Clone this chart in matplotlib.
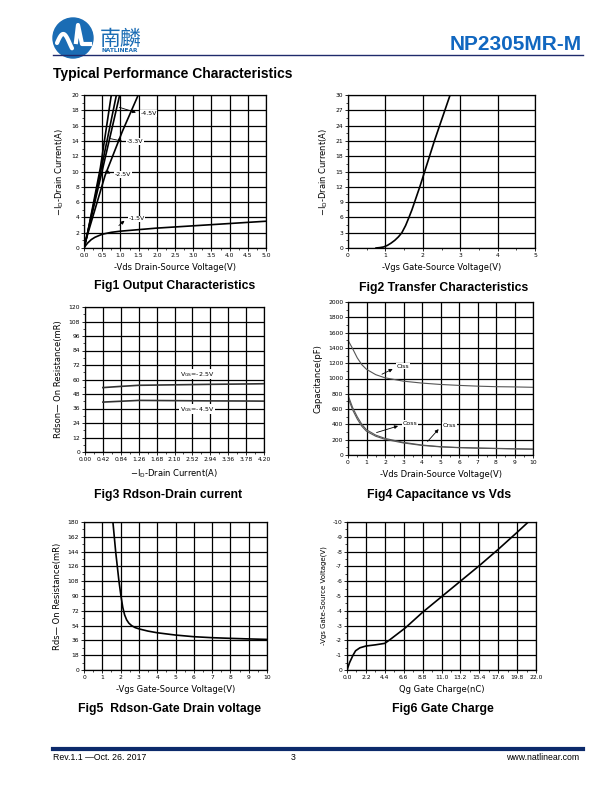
import numpy as np
import matplotlib
matplotlib.use('Agg')
import matplotlib.pyplot as plt
from matplotlib.ticker import MultipleLocator, FixedLocator
from matplotlib.patches import Circle

plt.rcParams['font.family'] = ['DejaVu Sans', 'Noto Sans CJK SC']
plt.rcParams['axes.unicode_minus'] = False

# ---- data ----
# Fig1 output characteristics (-Vds, -Id)
vds_45 = [0.0, 0.1, 0.45, 0.75]
id_45 = [0.0, 2.0, 10.5, 20.0]
vds_33 = [0.0, 0.1, 0.48, 0.89]
id_33 = [0.0, 2.0, 10.5, 20.0]
vds_30 = [0.0, 0.1, 0.52, 0.98]
id_30 = [0.0, 2.0, 10.5, 20.0]
vds_25 = [0.0, 0.1, 0.58, 1.05, 1.49]
id_25 = [0.0, 1.8, 9.5, 15.2, 20.0]
vds_15 = [0.0, 0.05, 0.1, 0.2, 0.3, 0.5, 0.75, 1.0, 1.5, 2.0, 3.0, 4.0, 5.0]
id_15 = [0.0, 0.35, 0.65, 1.1, 1.4, 1.8, 2.05, 2.2, 2.4, 2.6, 2.9, 3.2, 3.5]

# Fig2 transfer (-Vgs, -Id)
vgs_tr = [0.75, 0.85, 0.95, 1.05, 1.15, 1.25, 1.35, 1.44, 1.54, 1.63, 1.71, 1.78,
          1.85, 1.92, 1.99, 2.05, 2.18, 2.31, 2.45, 2.59, 2.73]
id_tr = [0.0, 0.08, 0.2, 0.5, 0.95, 1.5, 2.2, 3.0, 4.4, 6.0, 7.5, 9.0,
         10.5, 12.0, 13.6, 15.0, 18.0, 21.0, 24.0, 27.0, 30.0]

# Fig3 Rdson vs Id
id_rds = [0.42, 0.84, 1.26, 2.10, 2.94, 3.78, 4.20]
rds_25 = [53.3, 54.3, 55.2, 55.6, 56.0, 56.3, 56.5]
rds_45 = [41.3, 42.0, 42.7, 42.5, 42.3, 42.2, 42.1]

# Fig4 capacitance vs Vds
vds_c = [0, 0.25, 0.5, 0.75, 1, 1.5, 2, 3, 4, 5, 6, 7, 8, 9, 10]
ciss = [1500, 1390, 1270, 1180, 1120, 1050, 1009, 965, 940, 922, 910, 900, 893, 890, 885]
coss = [783, 620, 500, 400, 330, 260, 217, 165, 130, 109, 98, 92, 87, 82, 78]
crss = [750, 590, 470, 375, 310, 245, 205, 157, 125, 106, 95, 89, 84, 79, 75]

# Fig5 Rds vs Vgs
vgs_r = [1.58, 1.73, 1.91, 2.02, 2.12, 2.22, 2.33, 2.45, 2.6, 2.8, 3.04, 3.5, 4, 5, 6, 7, 8, 9, 10]
rds_v = [180, 144, 108, 90, 76, 67, 61, 57, 54, 51.5, 49.8, 47.3, 45.3, 42.5, 40.5, 39.3, 38.5, 37.8, 37.2]

# Fig6 gate charge
qg = [0.0, 0.3, 0.7, 1.0, 1.5, 2.2, 3.3, 4.4, 5.0, 6.8, 8.8, 11.0, 13.2, 15.4, 17.6, 19.8, 21.1]
vgs_q = [0.0, -0.5, -1.0, -1.3, -1.5, -1.62, -1.7, -1.8, -2.05, -2.85, -3.9, -4.95, -6.0, -7.05, -8.15, -9.3, -10.0]

fig = plt.figure(figsize=(6.12, 7.92), dpi=100)

# page decorations in pixel coordinates
bg = fig.add_axes([0, 0, 1, 1])
bg.set_xlim(0, 612)
bg.set_ylim(792, 0)
bg.axis('off')
bg.add_patch(Circle((73, 38), 20, color='#1a6cb4'))
t = np.linspace(0, 1, 60)
bg.plot(57 + 15*t, 43 - 9*np.sin(np.pi*t*1.2), color='white', lw=3, solid_capstyle='round')
bg.plot([76, 78, 82, 90], [42, 25, 44, 44], color='white', lw=3)
bg.text(100, 39, '南麟', family='Noto Sans CJK SC', fontsize=15, color='#1a6cb4', va='center')
bg.text(101, 51, 'NATLINEAR', fontsize=4.2, weight='bold', color='#1a6cb4', va='center')
bg.text(582, 45, 'NP2305MR-M', fontsize=15, weight='bold', color='#1167c0',
        ha='right', va='center', family='Liberation Sans')
bg.plot([53, 583], [55, 55], color='#1f2a6b', lw=1)
bg.text(53, 74, 'Typical Performance Characteristics', fontsize=10, weight='bold',
        family='Liberation Sans', va='center')
bg.plot([53, 583], [749, 749], color='#0c2a6b', lw=3)
bg.text(53, 758, 'Rev.1.1 \u2014Oct. 26. 2017', fontsize=6.3, family='Liberation Sans', va='center')
bg.text(293, 758, '3', fontsize=6.3, family='Liberation Sans', va='center', ha='center')
bg.text(579, 758, 'www.natlinear.com', fontsize=6.3, family='Liberation Sans', va='center', ha='right')

captions = [(175, 286, 'Fig1 Output Characteristics'),
            (444, 288, 'Fig2 Transfer Characteristics'),
            (168, 495, 'Fig3 Rdson-Drain current'),
            (439, 495, 'Fig4 Capacitance vs Vds'),
            (170, 709, 'Fig5  Rdson-Gate Drain voltage'),
            (443, 709, 'Fig6 Gate Charge')]
for cx, cy, ct in captions:
    bg.text(cx, cy, ct, fontsize=8.8, weight='bold', family='Liberation Sans',
            ha='center', va='center')


def add_ax(x0, y0, x1, y1):
    return fig.add_axes([x0/612, 1 - y1/792, (x1 - x0)/612, (y1 - y0)/792])


def style(ax):
    ax.grid(True, color='black', lw=0.9)
    ax.set_axisbelow(True)
    for s in ax.spines.values():
        s.set_linewidth(0.9)
    ax.tick_params(labelsize=4.3, length=2, width=0.6, pad=1.5)
    ax.tick_params(which='minor', length=1.2, width=0.5)


lab = dict(fontsize=6)
idlab = r'$-\mathregular{I_D}$-Drain Current(A)'
box = dict(facecolor='white', edgecolor='none', pad=0.5)
arr = dict(arrowstyle='-|>', lw=0.6, color='black', mutation_scale=5)

# Fig1
ax1 = add_ax(84, 95, 266, 248)
for xs, ys in [(vds_45, id_45), (vds_33, id_33), (vds_30, id_30), (vds_25, id_25), (vds_15, id_15)]:
    ax1.plot(xs, ys, color='black', lw=1.2)
ax1.set_xlim(0, 5)
ax1.set_ylim(0, 20)
ax1.xaxis.set_major_locator(MultipleLocator(0.5))
ax1.xaxis.set_minor_locator(MultipleLocator(0.25))
ax1.xaxis.set_major_formatter('{x:.1f}')
ax1.yaxis.set_major_locator(MultipleLocator(2))
ax1.yaxis.set_minor_locator(MultipleLocator(1))
style(ax1)
ax1.set_xlabel('-Vds Drain-Source Voltage(V)', **lab)
ax1.set_ylabel(idlab, **lab)
for txt, xy, xt in [('-4.5V', (0.9, 18.5), (1.55, 17.6)), ('-3.3V', (0.62, 14.4), (1.17, 13.9)),
                    ('-2.5V', (0.52, 10.2), (0.85, 9.6)), ('-1.5V', (0.9, 2.7), (1.22, 3.8))]:
    ax1.annotate('', xy=(xt[0] - 0.05, xt[1]), xytext=xy, arrowprops=arr)
    ax1.text(xt[0], xt[1], txt, fontsize=4.5, va='center', bbox=box)

# Fig2
ax2 = add_ax(348, 95, 535, 248)
ax2.plot(vgs_tr, id_tr, color='black', lw=1.2)
ax2.set_xlim(0, 5)
ax2.set_ylim(0, 30)
ax2.xaxis.set_major_locator(MultipleLocator(1))
ax2.xaxis.set_minor_locator(MultipleLocator(0.5))
ax2.yaxis.set_major_locator(MultipleLocator(3))
ax2.yaxis.set_minor_locator(MultipleLocator(1.5))
style(ax2)
ax2.set_xlabel('-Vgs Gate-Source Voltage(V)', **lab)
ax2.set_ylabel(idlab, **lab)

# Fig3
ax3 = add_ax(85, 307, 264, 452)
ax3.plot(id_rds, rds_25, color='#333333', lw=1.2)
ax3.plot(id_rds, rds_45, color='#333333', lw=1.2)
ax3.set_xlim(0, 4.2)
ax3.set_ylim(0, 120)
ax3.xaxis.set_major_locator(FixedLocator(np.arange(0, 4.21, 0.42)))
ax3.xaxis.set_minor_locator(FixedLocator(np.arange(0.21, 4.2, 0.42)))
ax3.xaxis.set_major_formatter('{x:.2f}')
ax3.yaxis.set_major_locator(MultipleLocator(12))
ax3.yaxis.set_minor_locator(MultipleLocator(6))
style(ax3)
ax3.set_xlabel(idlab, **lab)
ax3.set_ylabel('Rdson\u2014 On Resistance(mR)', **lab)
ax3.text(2.23, 64.5, r'V$_{\mathregular{GS}}$=-2.5V', fontsize=4.5, va='center', bbox=box)
ax3.text(2.23, 35.5, r'V$_{\mathregular{GS}}$=-4.5V', fontsize=4.5, va='center', bbox=box)

# Fig4
ax4 = add_ax(348, 302, 533, 455)
ax4.plot(vds_c, ciss, color='#555555', lw=0.8)
ax4.plot(vds_c, coss, color='#555555', lw=0.8)
ax4.plot(vds_c, crss, color='#555555', lw=0.8)
ax4.set_xlim(0, 10)
ax4.set_ylim(0, 2000)
ax4.xaxis.set_major_locator(MultipleLocator(1))
ax4.xaxis.set_minor_locator(MultipleLocator(0.5))
ax4.yaxis.set_major_locator(MultipleLocator(200))
ax4.yaxis.set_minor_locator(MultipleLocator(100))
style(ax4)
ax4.set_xlabel('-Vds Drain-Source Voltage(V)', **lab)
ax4.set_ylabel('Capacitance(pF)', **lab)
for txt, xy, xt in [('Ciss', (1.7, 1040), (2.65, 1160)), ('Coss', (1.4, 283), (2.95, 410)),
                    ('Crss', (4.2, 150), (5.1, 385))]:
    ax4.annotate('', xy=(xt[0] - 0.1, xt[1] - 20), xytext=xy, arrowprops=arr)
    ax4.text(xt[0], xt[1], txt, fontsize=4.5, va='center', bbox=box)

# Fig5
ax5 = add_ax(84, 522, 267, 670)
ax5.plot(vgs_r, rds_v, color='black', lw=1.2)
ax5.set_xlim(0, 10)
ax5.set_ylim(0, 180)
ax5.xaxis.set_major_locator(MultipleLocator(1))
ax5.xaxis.set_minor_locator(MultipleLocator(0.5))
ax5.yaxis.set_major_locator(MultipleLocator(18))
ax5.yaxis.set_minor_locator(MultipleLocator(9))
style(ax5)
ax5.set_xlabel('-Vgs Gate-Source Voltage(V)', **lab)
ax5.set_ylabel('Rds\u2014 On Resistance(mR)', **lab)

# Fig6
ax6 = add_ax(347, 522, 536, 670)
ax6.plot(qg, vgs_q, color='black', lw=1.2)
ax6.set_xlim(0, 22)
ax6.set_ylim(0, -10)
ax6.xaxis.set_major_locator(FixedLocator(np.arange(0, 22.01, 2.2)))
ax6.xaxis.set_minor_locator(FixedLocator(np.arange(1.1, 22, 2.2)))
ax6.xaxis.set_major_formatter('{x:.1f}')
ax6.yaxis.set_major_locator(MultipleLocator(1))
ax6.yaxis.set_minor_locator(MultipleLocator(0.5))
style(ax6)
ax6.set_xlabel('Qg Gate Charge(nC)', **lab)
ax6.set_ylabel('-Vgs Gate-Source Voltage(V)', fontsize=5)

fig.savefig('out.png', dpi=100)
